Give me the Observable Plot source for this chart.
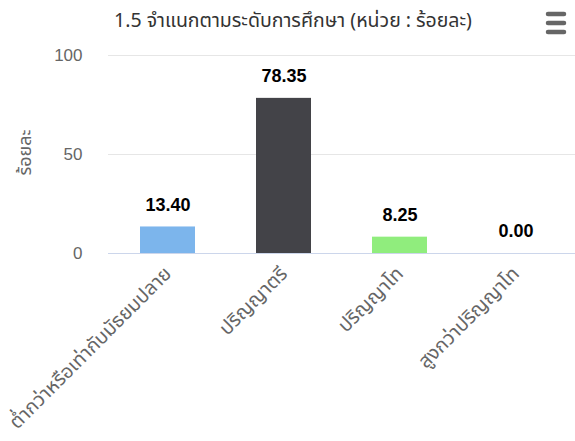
<!DOCTYPE html>
<html>
<head>
<meta charset="utf-8">
<script src="https://cdn.jsdelivr.net/npm/d3@7"></script>
<script src="https://cdn.jsdelivr.net/npm/@observablehq/plot@0.6"></script>
<style>
  html, body { margin: 0; padding: 0; background: #fff; }
  #wrap { position: relative; width: 575px; height: 441px; overflow: hidden; }
  #title { position: absolute; top: 6px; left: 0; width: 586px; text-align: center;
    font-family: "Noto Sans", "Noto Sans Thai", sans-serif; font-size: 19.5px; color: #333; }
  #menu { position: absolute; top: 0; left: 0; }
</style>
</head>
<body>
<div id="wrap">
  <div id="chart"></div>
  <div id="title">1.5 จำแนกตามระดับการศึกษา (หน่วย : ร้อยละ)</div>
  <svg id="menu" width="575" height="441" pointer-events="none">
    <g stroke="#666" stroke-width="4.5" stroke-linecap="round">
      <line x1="548" y1="14" x2="564" y2="14"/>
      <line x1="548" y1="23" x2="564" y2="23"/>
      <line x1="548" y1="32" x2="564" y2="32"/>
    </g>
  </svg>
</div>
<script>
const categories = ["ต่ำกว่าหรือเท่ากับมัธยมปลาย", "ปริญญาตรี", "ปริญญาโท", "สูงกว่าปริญญาโท"];
const values = [13.40, 78.35, 8.25, 0.00];
const colors = ["#7cb5ec", "#434348", "#90ed7d", "#f7a35c"];
const yTicks = [0, 50, 100];
const yTitle = "ร้อยละ";

const data = categories.map((c, i) => ({cat: c, value: values[i]}));

const chart = Plot.plot({
  width: 575,
  height: 441,
  marginTop: 55,
  marginBottom: 188,
  marginLeft: 108,
  marginRight: 0,
  style: {fontFamily: "'Liberation Sans', 'Noto Sans Thai', 'Noto Sans', sans-serif", background: "#fff", overflow: "visible"},
  x: {domain: categories, paddingInner: 0.53, paddingOuter: 0.265, label: null},
  y: {domain: [0, 100], label: null},
  color: {domain: categories, range: colors},
  marks: [
    Plot.ruleY(yTicks.filter(d => d !== 0), {stroke: "#e6e6e6", strokeWidth: 1}),
    Plot.barY(data, {x: "cat", y: "value", fill: "cat"}),
    Plot.ruleY([0], {stroke: "#ccd6eb", strokeWidth: 1}),
    Plot.axisY({ticks: yTicks, tickSize: 0, tickPadding: 26, fontSize: 17, color: "#666", label: null}),
    Plot.text([yTitle], {frameAnchor: "left", text: d => d, rotate: -90, textAnchor: "middle", dx: -83, dy: -2, fontSize: 18, fill: "#666"}),
    Plot.axisX({tickRotate: -45, tickSize: 0, tickPadding: 17, fontSize: 19.5, color: "#666", label: null}),
    Plot.text(data, {x: "cat", y: "value", text: d => d.value.toFixed(2), dy: -22, fontWeight: "bold", fontSize: 18, fill: "#000", fontFamily: "'Liberation Sans', Arial, sans-serif"})
  ]
});
document.getElementById("chart").appendChild(chart);
</script>
</body>
</html>
